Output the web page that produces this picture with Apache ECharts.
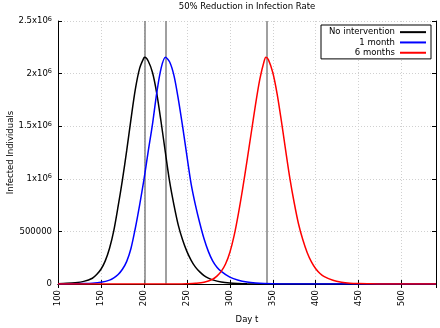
<!DOCTYPE html>
<html>
<head>
<meta charset="utf-8">
<script src="https://cdn.jsdelivr.net/npm/echarts@6/dist/echarts.min.js"></script>
<style>
  html, body { margin: 0; padding: 0; background: #fff; }
  #chart { width: 440px; height: 328px; }
</style>
</head>
<body>
<div id="chart"></div>
<script>
// day t -> infected individuals
const noInterventionDays = [100, 110, 120, 130, 140, 145, 150, 155, 160, 165, 170, 175, 180, 185, 190, 195, 200, 201, 205, 210, 215, 220, 225, 230, 235, 240, 245, 250, 255, 260, 265, 270, 275, 280, 290, 300, 310, 320, 340, 360, 400, 540]
const noInterventionVals = [3000, 6000, 12000, 25000, 55000, 90000, 140000, 220000, 340000, 510000, 740000, 990000, 1270000, 1570000, 1850000, 2050000, 2150000, 2155000, 2120000, 2010000, 1810000, 1540000, 1250000, 970000, 750000, 560000, 420000, 310000, 225000, 160000, 115000, 80000, 56000, 39000, 19000, 9000, 4500, 2000, 500, 0, 0, 0]

const oneMonthDays = [100, 110, 120, 130, 140, 150, 160, 165, 170, 175, 180, 185, 190, 195, 200, 205, 210, 215, 220, 225, 230, 235, 240, 245, 250, 255, 260, 265, 270, 275, 280, 285, 290, 300, 310, 320, 330, 340, 360, 380, 540]
const oneMonthVals = [500, 1000, 2000, 4000, 8000, 17000, 37000, 58000, 90000, 140000, 215000, 340000, 530000, 750000, 990000, 1260000, 1520000, 1820000, 2050000, 2155000, 2110000, 1980000, 1760000, 1500000, 1220000, 950000, 750000, 580000, 430000, 310000, 220000, 160000, 120000, 65000, 35000, 18000, 9000, 4500, 1000, 0, 0]

const sixMonthsDays = [100, 240, 250, 260, 270, 280, 285, 290, 295, 300, 305, 310, 315, 320, 325, 330, 335, 340, 342, 345, 350, 355, 360, 365, 370, 375, 380, 385, 390, 395, 400, 405, 410, 420, 430, 440, 450, 460, 480, 540]
const sixMonthsVals = [0, 0, 2000, 6000, 16000, 45000, 75000, 120000, 190000, 300000, 460000, 670000, 910000, 1170000, 1440000, 1710000, 1950000, 2120000, 2155000, 2130000, 2010000, 1810000, 1550000, 1270000, 1000000, 770000, 570000, 420000, 300000, 210000, 145000, 100000, 70000, 35000, 17000, 8000, 4000, 2000, 0, 0]

const peakDays = [201, 225.5, 342.5]

const seriesNames = ['No intervention', '1 month', '6 months']
const seriesColors = ['#000000', '#0000ff', '#ff0000']

const font = 'DejaVu Sans'
const zip = (xs, ys) => xs.map((x, i) => [x, ys[i]])

const chart = echarts.init(document.getElementById('chart'), null, { renderer: 'canvas' })

const yFormatter = (v) => {
  if (v === 0) return '0'
  if (v === 500000) return '500000'
  return `${v / 1e6}x10{sup|6}`
}

const dataSets = [
  zip(noInterventionDays, noInterventionVals),
  zip(oneMonthDays, oneMonthVals),
  zip(sixMonthsDays, sixMonthsVals)
]

const curveSeries = dataSets.map((d, i) => ({
  name: seriesNames[i],
  type: 'line',
  data: d,
  smooth: 0.3,
  showSymbol: false,
  z: 3,
  lineStyle: { color: seriesColors[i], width: 1.5 },
  itemStyle: { color: seriesColors[i] }
}))

const gridLine = { show: true, lineStyle: { color: '#d0d0d0', type: [1, 2], width: 1 } }

const option = {
  animation: false,
  backgroundColor: '#fff',
  textStyle: { fontFamily: font },
  grid: { left: 58, right: 4, top: 21, bottom: 44, outerBoundsMode: 'none' },
  legend: {
    data: seriesNames,
    orient: 'vertical',
    right: 9,
    top: 25,
    align: 'right',
    icon: 'rect',
    itemWidth: 26,
    itemHeight: 2,
    itemGap: 0,
    padding: [2, 5, 1, 8],
    borderColor: '#000',
    borderWidth: 1,
    borderRadius: 0,
    backgroundColor: '#fff',
    textStyle: { fontFamily: font, fontSize: 8.5, lineHeight: 10.3, color: '#000' }
  },
  xAxis: [
    {
      type: 'value',
      min: 100,
      max: 540,
      interval: 50,
      name: 'Day t',
      nameLocation: 'middle',
      nameGap: 31,
      nameMoveOverlap: false,
      nameTextStyle: { fontFamily: font, fontSize: 8.5, color: '#000' },
      axisLine: { lineStyle: { color: '#000', width: 1 } },
      axisTick: { inside: true, length: 4, lineStyle: { color: '#000' } },
      axisLabel: {
        rotate: 90,
        margin: 6,
        fontFamily: font,
        fontSize: 8.5,
        color: '#000',
        formatter: (v) => (v % 50 === 0 ? String(v) : '')
      },
      splitLine: gridLine
    },
    {
      type: 'value',
      position: 'top',
      min: 100,
      max: 540,
      interval: 50,
      name: '50% Reduction in Infection Rate',
      nameLocation: 'middle',
      nameGap: 10,
      nameTextStyle: { fontFamily: font, fontSize: 8.5, color: '#000' },
      axisLine: { lineStyle: { color: '#000', width: 1 } },
      axisTick: { inside: true, length: 4, lineStyle: { color: '#000' } },
      axisLabel: { show: false },
      splitLine: { show: false }
    }
  ],
  yAxis: [
    {
      type: 'value',
      min: 0,
      max: 2500000,
      interval: 500000,
      name: 'Infected Individuals',
      nameLocation: 'middle',
      nameGap: 43,
      nameMoveOverlap: false,
      nameTextStyle: { fontFamily: font, fontSize: 8.5, color: '#000' },
      axisLine: { show: true, lineStyle: { color: '#000', width: 1 } },
      axisTick: { show: true, inside: true, length: 4, lineStyle: { color: '#000' } },
      axisLabel: {
        margin: 6,
        fontFamily: font,
        fontSize: 8.5,
        color: '#000',
        formatter: yFormatter,
        rich: {
          sup: { fontSize: 6.5, fontFamily: font, color: '#000', verticalAlign: 'top', padding: [0, 0, 4, 0] }
        }
      },
      splitLine: gridLine
    },
    {
      type: 'value',
      position: 'right',
      min: 0,
      max: 2500000,
      interval: 500000,
      axisLine: { show: true, lineStyle: { color: '#000', width: 1 } },
      axisTick: { show: true, inside: true, length: 4, lineStyle: { color: '#000' } },
      axisLabel: { show: false },
      splitLine: { show: false }
    }
  ],
  series: [
    {
      name: 'peaks',
      type: 'line',
      data: [],
      z: 1,
      markLine: {
        z: 1,
        silent: true,
        symbol: 'none',
        label: { show: false },
        lineStyle: { color: '#808080', width: 1.5, type: 'solid' },
        data: peakDays.map((d) => ({ xAxis: d }))
      }
    },
    ...curveSeries
  ]
}

chart.setOption(option)
</script>
</body>
</html>
